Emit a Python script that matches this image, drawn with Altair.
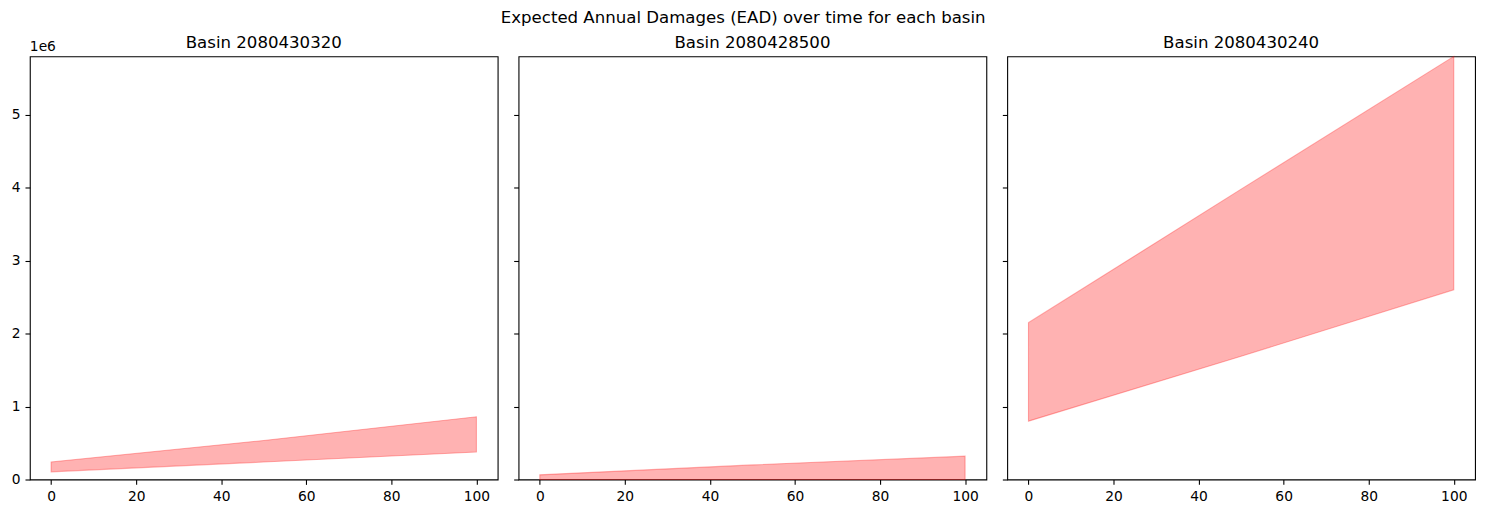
import altair as alt
import pandas as pd

basins = ["2080430320", "2080428500", "2080430240"]
years = [0, 50, 100]
lower_1 = [0.105e6, 0.24e6, 0.377e6]
upper_1 = [0.24e6, 0.535e6, 0.86e6]
lower_2 = [0.0, 0.0, 0.0]
upper_2 = [0.064e6, 0.2e6, 0.32e6]
lower_3 = [0.80e6, 1.69e6, 2.60e6]
upper_3 = [2.15e6, 3.98e6, 5.80e6]
x_ticks = [0, 20, 40, 60, 80, 100]
y_ticks = [0, 1e6, 2e6, 3e6, 4e6, 5e6]

FONT = "DejaVu Sans"
W, H = 471, 426


def panel(name, lo, hi, show_labels):
    df = pd.DataFrame({"t": years, "lo": lo, "hi": hi})
    area = alt.Chart(df).mark_area(
        fill="red", fillOpacity=0.3, stroke="red", strokeOpacity=0.3, strokeWidth=1.1
    ).encode(
        x=alt.X("t:Q", scale=alt.Scale(domain=[-5, 105], nice=False, zero=False),
                axis=alt.Axis(values=x_ticks, title=None)),
        y=alt.Y("lo:Q", scale=alt.Scale(domain=[0, 5.8e6], nice=False),
                axis=alt.Axis(values=y_ticks, labelExpr="datum.value / 1000000",
                              labels=show_labels, title=None)),
        y2="hi:Q",
    )
    ttl = alt.Chart(pd.DataFrame({"s": ["Basin " + name]})).mark_text(
        align="center", baseline="alphabetic", fontSize=16.7, font=FONT, color="black"
    ).encode(text="s:N", x=alt.value(W / 2), y=alt.value(-8))
    layers = [area, ttl]
    if show_labels:
        txt = alt.Chart(pd.DataFrame({"s": ["1e6"]})).mark_text(
            align="left", baseline="alphabetic", fontSize=13.9, font=FONT, color="black"
        ).encode(text="s:N", x=alt.value(0), y=alt.value(-5))
        layers.append(txt)
    return alt.layer(*layers).properties(width=W, height=H)


p1 = panel(basins[0], lower_1, upper_1, True)
p2 = panel(basins[1], lower_2, upper_2, False)
p3 = panel(basins[2], lower_3, upper_3, False)

chart = alt.hconcat(p1, p2, p3, spacing=21, bounds="flush").properties(
    title=alt.TitleParams(
        "Expected Annual Damages (EAD) over time for each basin",
        anchor="middle", offset=8,
    ),
    padding={"left": 2, "top": 0, "right": 5, "bottom": 5},
).configure_view(
    stroke="black", strokeWidth=1.1
).configure_axis(
    grid=False, domain=False, tickColor="black", tickWidth=1.1, tickSize=4.9,
    labelPadding=4.9, labelFont=FONT, labelFontSize=13.9, labelColor="black",
).configure_title(
    font=FONT, fontSize=16.7, fontWeight="normal", color="black",
)

chart.save("out.html", embed_options={"renderer": "svg", "actions": False})
